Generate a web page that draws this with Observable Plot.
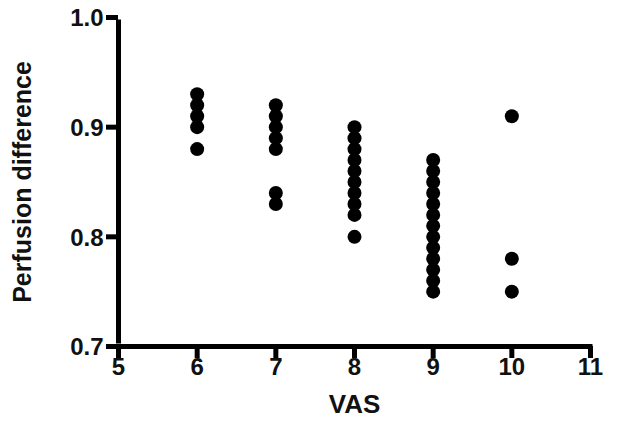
<!DOCTYPE html>
<html><head><meta charset="utf-8">
<script src="https://cdn.jsdelivr.net/npm/d3@7"></script>
<script src="https://cdn.jsdelivr.net/npm/@observablehq/plot@0.6"></script>
<style>body{margin:0;background:#fff;} svg{display:block;}</style>
</head><body><div id="chart"></div>
<script>
const vas6 = [0.93, 0.92, 0.91, 0.90, 0.88];
const vas7 = [0.92, 0.91, 0.90, 0.89, 0.88, 0.84, 0.83];
const vas8 = [0.90, 0.89, 0.88, 0.87, 0.86, 0.85, 0.84, 0.83, 0.82, 0.80];
const vas9 = [0.87, 0.86, 0.85, 0.84, 0.83, 0.82, 0.81, 0.80, 0.79, 0.78, 0.77, 0.76, 0.75];
const vas10 = [0.91, 0.78, 0.75];
const xTicks = [5, 6, 7, 8, 9, 10, 11];
const yTicks = [0.7, 0.8, 0.9, 1.0];

const data = [];
[[6, vas6], [7, vas7], [8, vas8], [9, vas9], [10, vas10]].forEach(([v, arr]) => arr.forEach(p => data.push({vas: v, perf: p})));

const xMin = xTicks[0], xMax = xTicks[xTicks.length - 1];
const yMin = yTicks[0], yMax = yTicks[yTicks.length - 1];
const font = "'Liberation Sans', Arial, sans-serif";
const plot = Plot.plot({
  width: 637, height: 428,
  marginLeft: 118, marginRight: 47, marginTop: 17, marginBottom: 82,
  style: {fontFamily: font, background: "#fff", overflow: "visible"},
  x: {domain: [xMin, xMax], axis: null},
  y: {domain: [yMin, yMax], axis: null},
  marks: [
    Plot.ruleX(xTicks, {x: d => d, y1: yMin, y2: yMin, insetBottom: -12, strokeWidth: 5, stroke: "#000"}),
    Plot.ruleY(yTicks, {y: d => d, x1: xMin, x2: xMin, insetLeft: -12, strokeWidth: 5, stroke: "#000"}),
    Plot.ruleX([xMin], {y1: yMin, y2: yMax, insetBottom: -2.5, insetTop: -2.5, strokeWidth: 5, stroke: "#000"}),
    Plot.ruleY([yMin], {x1: xMin, x2: xMax, insetRight: -2.5, strokeWidth: 5, stroke: "#000"}),
    Plot.text(xTicks, {x: d => d, frameAnchor: "bottom", dy: 28, text: d => String(d), fontSize: 24, fontWeight: "bold", fill: "#111"}),
    Plot.text(yTicks, {y: d => d, frameAnchor: "left", textAnchor: "end", dx: -15, dy: 1, text: d => d.toFixed(1), fontSize: 24, fontWeight: "bold", fill: "#111"}),
    Plot.dot(data, {x: "vas", y: "perf", r: 7, fill: "#000", stroke: null}),
    Plot.text(["VAS"], {frameAnchor: "bottom", dy: 66, text: d => d, fontSize: 26, fontWeight: "bold", fill: "#111"}),
    Plot.text(["Perfusion difference"], {frameAnchor: "left", textAnchor: "middle", dx: -96, rotate: -90, text: d => d, fontSize: 25, fontWeight: "bold", fill: "#111"})
  ]
});
document.getElementById("chart").appendChild(plot);
</script></body></html>
